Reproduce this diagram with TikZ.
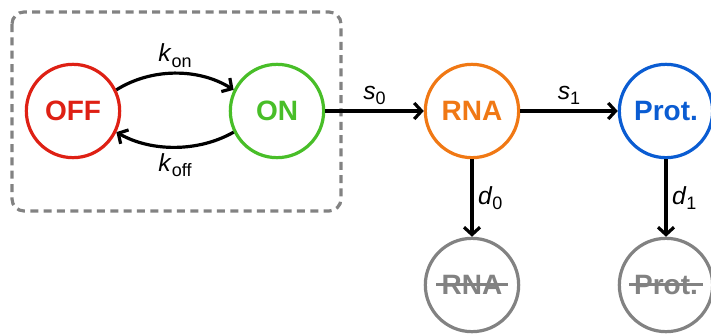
\documentclass[tikz,border=0pt]{standalone}
\usepackage{fontspec}
\setmainfont{Liberation Sans}
\usetikzlibrary{arrows.meta}

\definecolor{offred}{RGB}{222,32,20}
\definecolor{ongreen}{RGB}{72,190,40}
\definecolor{rnaorange}{RGB}{240,120,20}
\definecolor{protblue}{RGB}{10,92,210}
\definecolor{deadgray}{RGB}{130,130,130}

\newcommand{\rate}[2]{\textit{#1}\raisebox{-4pt}{\fontsize{13.5}{15}\selectfont #2}}
\newcommand{\crossout}[1]{\sbox0{#1}\rlap{\hspace{-4pt}\rule[0.3em]{\dimexpr\wd0+8pt\relax}{2.2pt}}\usebox0}

\tikzset{
  state/.style={circle, draw, line width=2.4pt, minimum size=70pt, inner sep=0pt,
    font=\fontsize{21}{25}\selectfont\bfseries},
  dead/.style={state, draw=deadgray, text=deadgray},
  rate/.style={-{Straight Barb[length=5.5pt,width=12pt]}, line width=2.4pt},
  lbl/.style={font=\fontsize{18.5}{21}\selectfont},
  boxline/.style={draw=deadgray, line width=2.4pt, dash pattern=on 6pt off 4pt, rounded corners=9pt}
}

\begin{document}
\begin{tikzpicture}[x=0.75pt,y=0.75pt,yscale=-1]
\useasboundingbox (0,0) rectangle (711,333);

%Dashed box round the promoter
\draw [boxline] (12,12) rectangle (341,211);

% States
\node [state, draw=offred, text=offred] (off) at (73,111) {OFF};
\node [state, draw=ongreen, text=ongreen] (on) at (277,111) {ON};
\node [state, draw=rnaorange, text=rnaorange] (rna) at (472,111) {RNA};
\node [state, draw=protblue, text=protblue] (prot) at (666,111) {Prot.};
% Degraded
\node [dead] (rnadeg) at (472,285) {\crossout{RNA}};
\node [dead] (protdeg) at (666,285) {\crossout{Prot.}};

% Switching
\draw [rate] (off.26) .. controls +(35,-22) and +(-35,-22) .. node[lbl,above] {\rate{k}{on}} (on.154);
\draw [rate] (on.206) .. controls +(-35,20) and +(35,20) .. node[lbl,below] {\rate{k}{off}} (off.-26);
% Production and decay
\draw [rate] (on) -- node[lbl,above] {\rate{s}{0}} (rna);
\draw [rate] (rna) -- node[lbl,above] {\rate{s}{1}} (prot);
\draw [rate] (rna) -- node[lbl,right] {\rate{d}{0}} (rnadeg);
\draw [rate] (prot) -- node[lbl,right] {\rate{d}{1}} (protdeg);

\end{tikzpicture}
\end{document}
